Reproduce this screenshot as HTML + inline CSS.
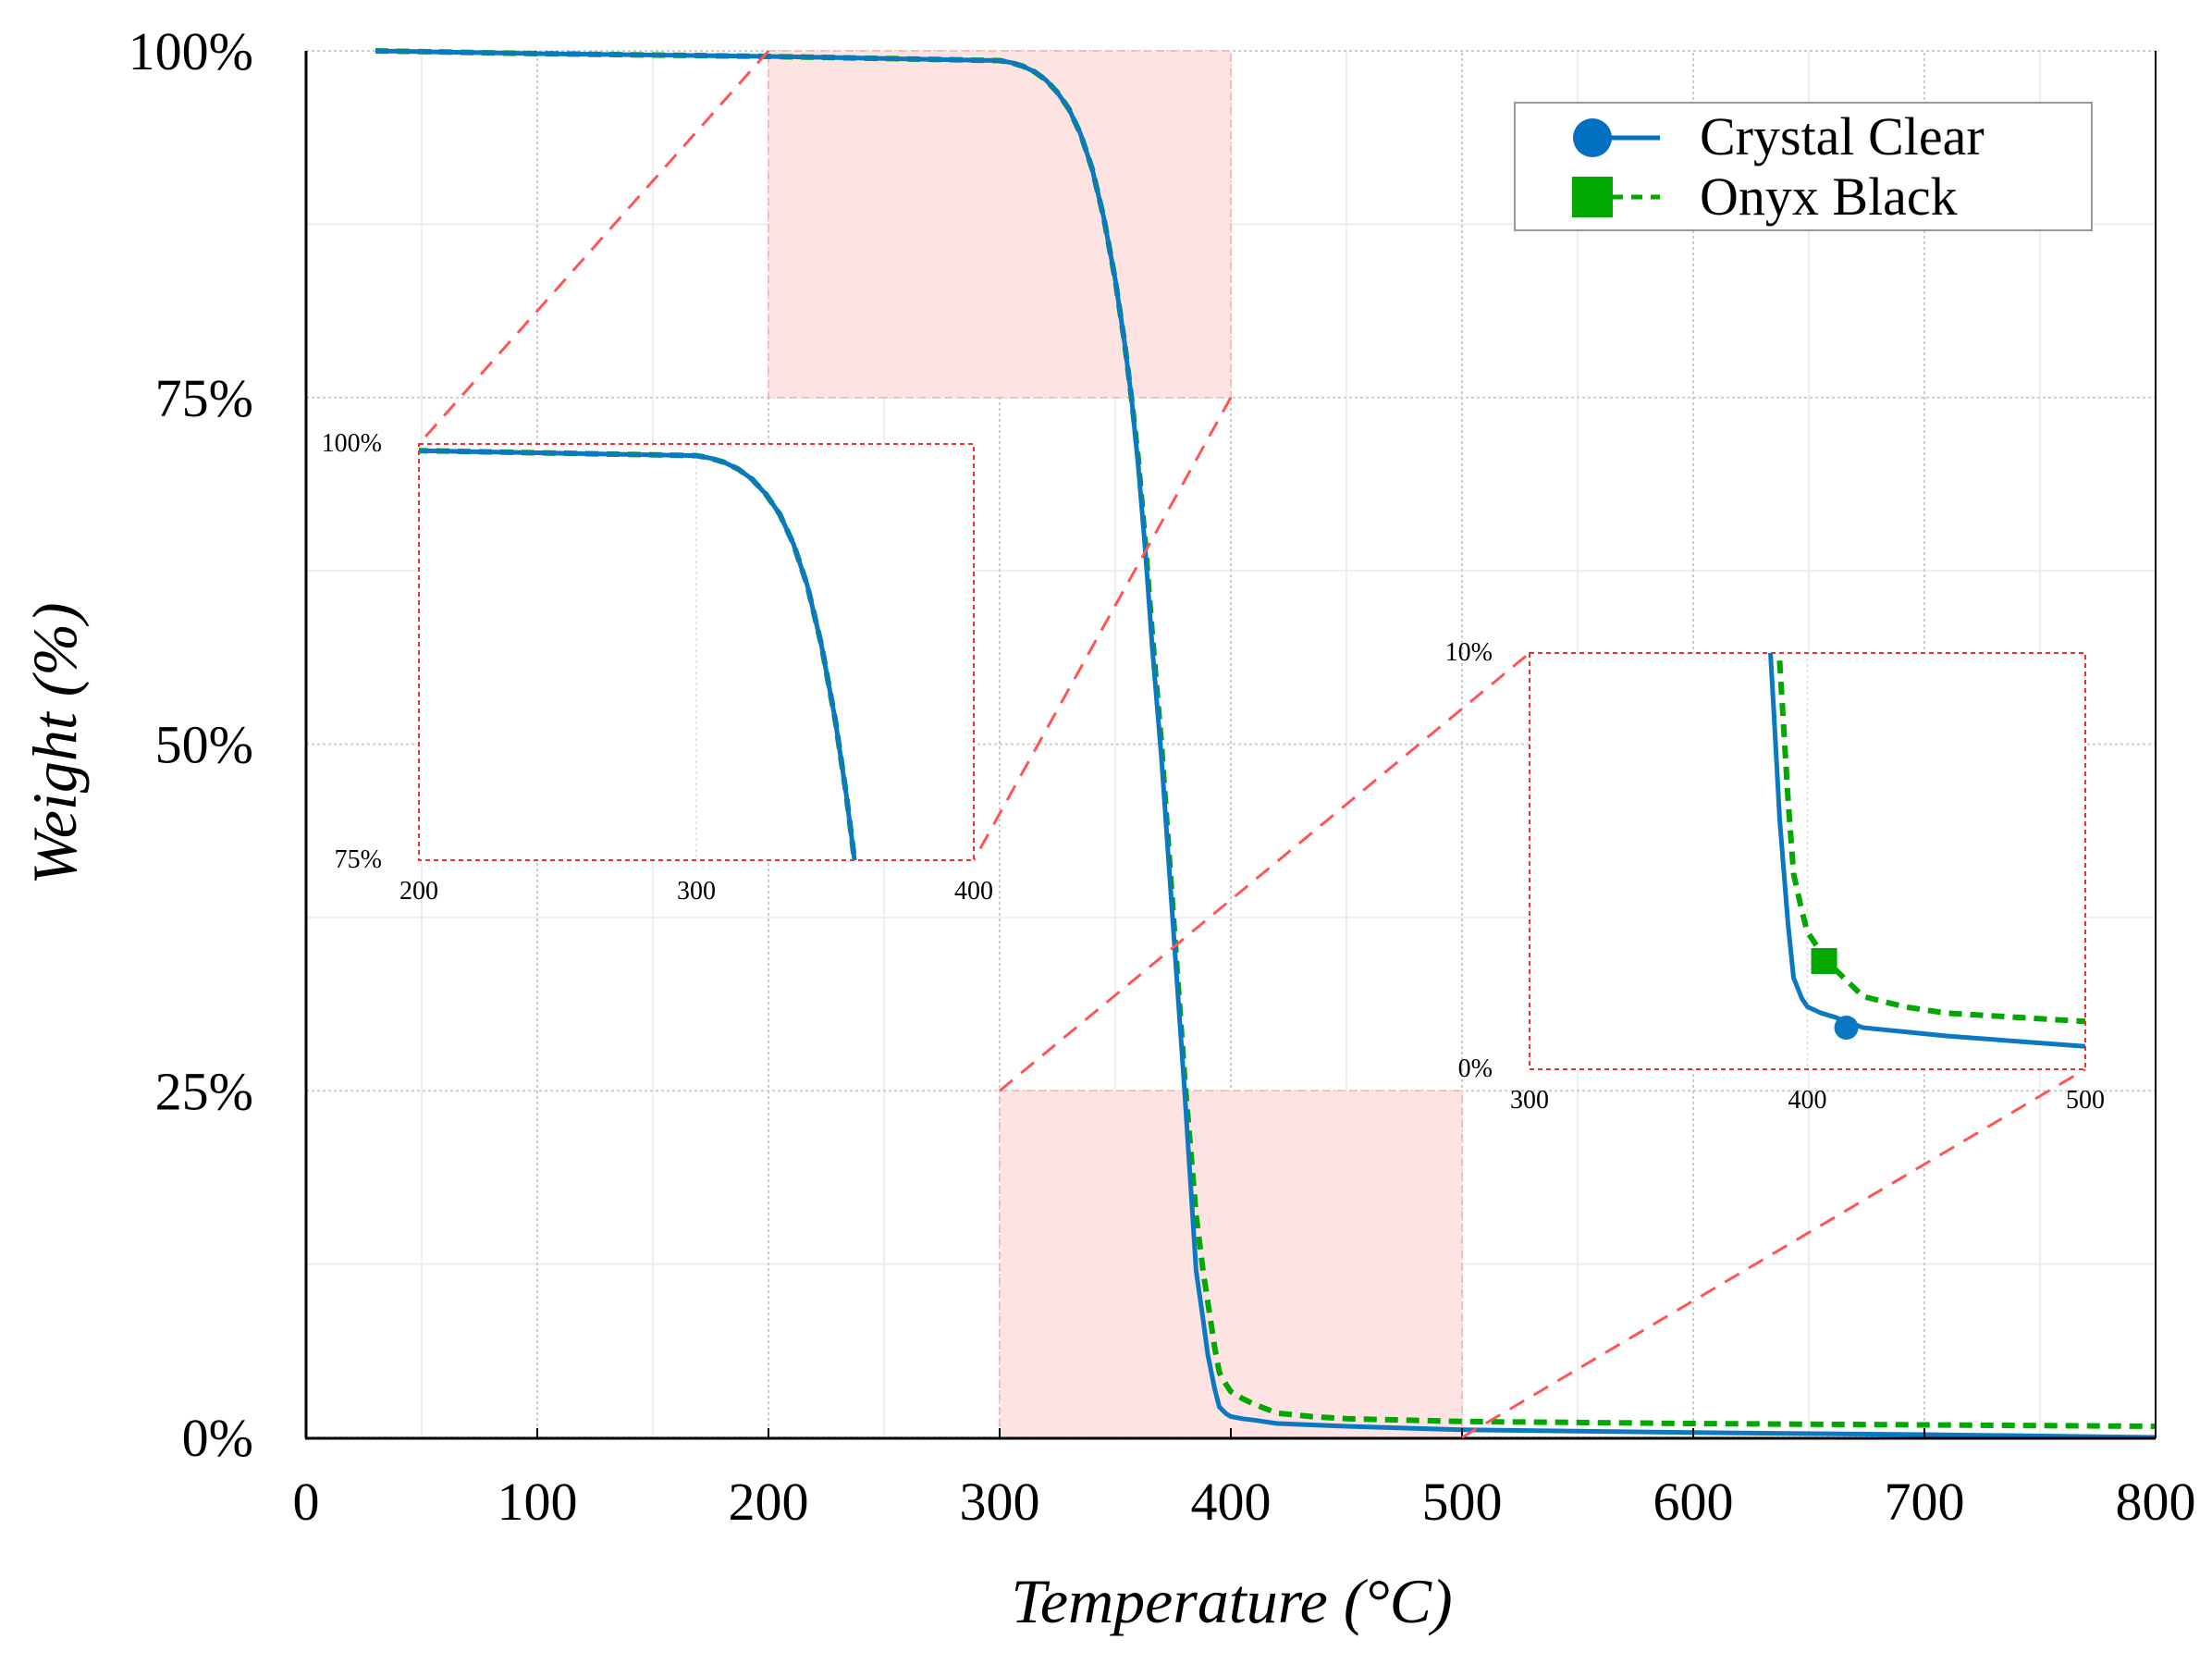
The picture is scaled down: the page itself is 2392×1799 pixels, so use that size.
<!DOCTYPE html>
<html><head><meta charset="utf-8"><style>
html,body{margin:0;padding:0;background:#fff;overflow:hidden;width:2392px;height:1799px;}
svg{display:block;font-family:"Liberation Serif",serif;}
</style></head><body>
<svg id="chart" width="2392" height="1799" viewBox="0 0 2392 1799" xmlns="http://www.w3.org/2000/svg">
<defs>
<clipPath id="c1"><rect x="453" y="480" width="600" height="450"/></clipPath>
<clipPath id="c2"><rect x="1654" y="706" width="601" height="450"/></clipPath>
</defs>
<g id="grid"></g>
<g id="shade"></g>
<g id="main"></g>
<g id="axes"></g>
<g id="ins"></g>
<text x="1332" y="1754" font-size="68" font-style="italic" text-anchor="middle">Temperature (°C)</text>
<text x="0" y="0" font-size="68" font-style="italic" text-anchor="middle" transform="translate(82,804) rotate(-90)">Weight (%)</text>
<g>
<rect x="1638" y="111" width="624" height="138" fill="#fff" stroke="#999" stroke-width="2"/>
<line x1="1722" y1="149" x2="1795" y2="149" stroke="#0070c0" stroke-width="5"/>
<circle cx="1722" cy="149" r="21" fill="#0070c0"/>
<text x="1838" y="167" font-size="58">Crystal Clear</text>
<line x1="1722" y1="213" x2="1795" y2="213" stroke="#00a800" stroke-width="5" stroke-dasharray="12,9"/>
<rect x="1700" y="191" width="44" height="44" fill="#00a800"/>
<text x="1838" y="232" font-size="58">Onyx Black</text>
</g>
</svg>
<script>
const temps = [30,100,200,300,305,310,315,320,325,330,335,340,345,350,354,357,360,363,366,370,375,380,385,388,390,393,395,398,400,405,410,420,435,450,500,600,700,800];
const crystal = [100,99.8,99.6,99.3,99.15,98.9,98.5,97.9,97,95.8,94,91.5,88,83.5,79,75,70,64,57,49,37,25,12,8.5,6,3.5,2.2,1.7,1.5,1.35,1.25,1.0,0.9,0.8,0.55,0.35,0.2,0];
const onyx = [100,99.8,99.6,99.3,99.15,98.9,98.5,97.9,97,95.8,94,91.5,88,83.5,79,75,70.5,64.5,58,50,38,26,16,12,9.8,6.5,4.7,3.8,3.3,2.8,2.4,1.75,1.5,1.35,1.15,1.0,0.9,0.8];
const xTicks = [0,100,200,300,400,500,600,700,800];
const yTicks = [0,25,50,75,100];
const yTickLabels = ["0%","25%","50%","75%","100%"];
const markerCrystal = [414,1.0];
const markerOnyx = [406,2.6];
const NS="http://www.w3.org/2000/svg";
function mk(tag,attrs,parent){const e=document.createElementNS(NS,tag);for(const k in attrs)e.setAttribute(k,attrs[k]);parent.appendChild(e);return e;}
function scale(d0,d1,r0,r1){return v=>r0+(v-d0)/(d1-d0)*(r1-r0);}
const X=scale(0,800,331,2331), Y=scale(0,100,1554,55);
const grid=document.getElementById('grid'),shade=document.getElementById('shade'),main=document.getElementById('main'),axes=document.getElementById('axes'),ins=document.getElementById('ins');
for(let v=50;v<800;v+=100){const l=mk('line',{x1:X(v),x2:X(v),y1:Y(0),y2:Y(100),stroke:'#eee','stroke-width':2},grid);}
for(let v=12.5;v<100;v+=25){const l=mk('line',{x1:X(0),x2:X(800),y1:Y(v),y2:Y(v),stroke:'#eee','stroke-width':2},grid);}
xTicks.forEach(v=>{const l=mk('line',{x1:X(v),x2:X(v),y1:Y(0),y2:Y(100),stroke:'#ccc','stroke-width':2,'stroke-dasharray':'3,3'},grid);
 const t=mk('text',{x:X(v),y:1643,'font-size':58,'text-anchor':'middle'},axes);t.textContent=v;
 const tk=mk('line',{x1:X(v),x2:X(v),y1:Y(0),y2:Y(0)-10,stroke:'#000','stroke-width':2},axes);});
yTicks.forEach((v,i)=>{const l=mk('line',{x1:X(0),x2:X(800),y1:Y(v),y2:Y(v),stroke:'#ccc','stroke-width':2,'stroke-dasharray':'3,3'},grid);
 const t=mk('text',{x:274,y:Y(v)+20,'font-size':58,'text-anchor':'end'},axes);t.textContent=yTickLabels[i];});
[[200,400,75,100],[300,500,0,25]].forEach(r=>{const e=mk('rect',{x:X(r[0]),y:Y(r[3]),width:X(r[1])-X(r[0]),height:Y(r[2])-Y(r[3]),fill:'#fde3e1',stroke:'#f7b0ab','stroke-width':1.5,'stroke-dasharray':'8,6'},shade);});
function path(xs,ys,sx,sy){return xs.map((t,i)=>(i?'L':'M')+sx(t).toFixed(1)+','+sy(ys[i]).toFixed(1)).join(' ');}
let p=mk('path',{d:path(temps,onyx,X,Y),fill:'none',stroke:'#00a800','stroke-width':6,'stroke-dasharray':'14,9','stroke-linejoin':'round'},main);
p=mk('path',{d:path(temps,crystal,X,Y),fill:'none',stroke:'#0a78c2','stroke-width':5,'stroke-linejoin':'round'},main);
let a=mk('line',{x1:331,x2:331,y1:55,y2:1555,stroke:'#000','stroke-width':3},axes);
a=mk('line',{x1:330,x2:2331,y1:1555,y2:1555,stroke:'#000','stroke-width':3},axes);
a=mk('line',{x1:2331,x2:2331,y1:55,y2:1555,stroke:'#000','stroke-width':2},axes);
function inset(box,xd,yd,clip,yl,name,markers){
 const sx=scale(xd[0],xd[1],box[0],box[2]), sy=scale(yd[0],yd[1],box[3],box[1]);
 const g=mk('g',{},ins);
 mk('rect',{x:box[0],y:box[1],width:box[2]-box[0],height:box[3]-box[1],fill:'#fff'},g);
 const mid=(xd[0]+xd[1])/2;
 mk('line',{x1:sx(mid),x2:sx(mid),y1:box[1],y2:box[3],stroke:'#ddd','stroke-width':1.5,'stroke-dasharray':'3,3'},g);
 let q=mk('path',{d:path(temps,onyx,sx,sy),fill:'none',stroke:'#00a800','stroke-width':6,'stroke-dasharray':'14,9','stroke-linejoin':'round','clip-path':'url(#'+clip+')'},g);
 q=mk('path',{d:path(temps,crystal,sx,sy),fill:'none',stroke:'#0a78c2','stroke-width':5,'stroke-linejoin':'round','clip-path':'url(#'+clip+')'},g);
 mk('rect',{x:box[0],y:box[1],width:box[2]-box[0],height:box[3]-box[1],fill:'none',stroke:'#f03030','stroke-width':2,'stroke-dasharray':'5,4'},g);
 [xd[0],mid,xd[1]].forEach(v=>{const t=mk('text',{x:sx(v),y:box[3]+42,'font-size':28,'text-anchor':'middle'},g);t.textContent=v;});
 [[yd[1],yl[1]],[yd[0],yl[0]]].forEach(o=>{const t=mk('text',{x:box[0]-40,y:sy(o[0])+8,'font-size':28,'text-anchor':'end'},g);t.textContent=o[1];});
 if(markers){let c=mk('circle',{cx:sx(markerCrystal[0]),cy:sy(markerCrystal[1]),r:13,fill:'#0a78c2'},g);
  c=mk('rect',{x:sx(markerOnyx[0])-14,y:sy(markerOnyx[1])-14,width:28,height:28,fill:'#00a800'},g);}
}
[[X(200),Y(100),453,480],[X(400),Y(75),1053,930],[X(300),Y(25),1654,706],[X(500),Y(0),2255,1156]].forEach(c=>{const l=mk('line',{x1:c[0],y1:c[1],x2:c[2],y2:c[3],stroke:'#f55','stroke-width':3,'stroke-dasharray':'18,12'},ins);});
inset([453,480,1053,930],[200,400],[75,100],'c1',['75%','100%'],'inset-early',false);
inset([1654,706,2255,1156],[300,500],[0,10],'c2',['0%','10%'],'inset-residue',true);
</script>
</body></html>
